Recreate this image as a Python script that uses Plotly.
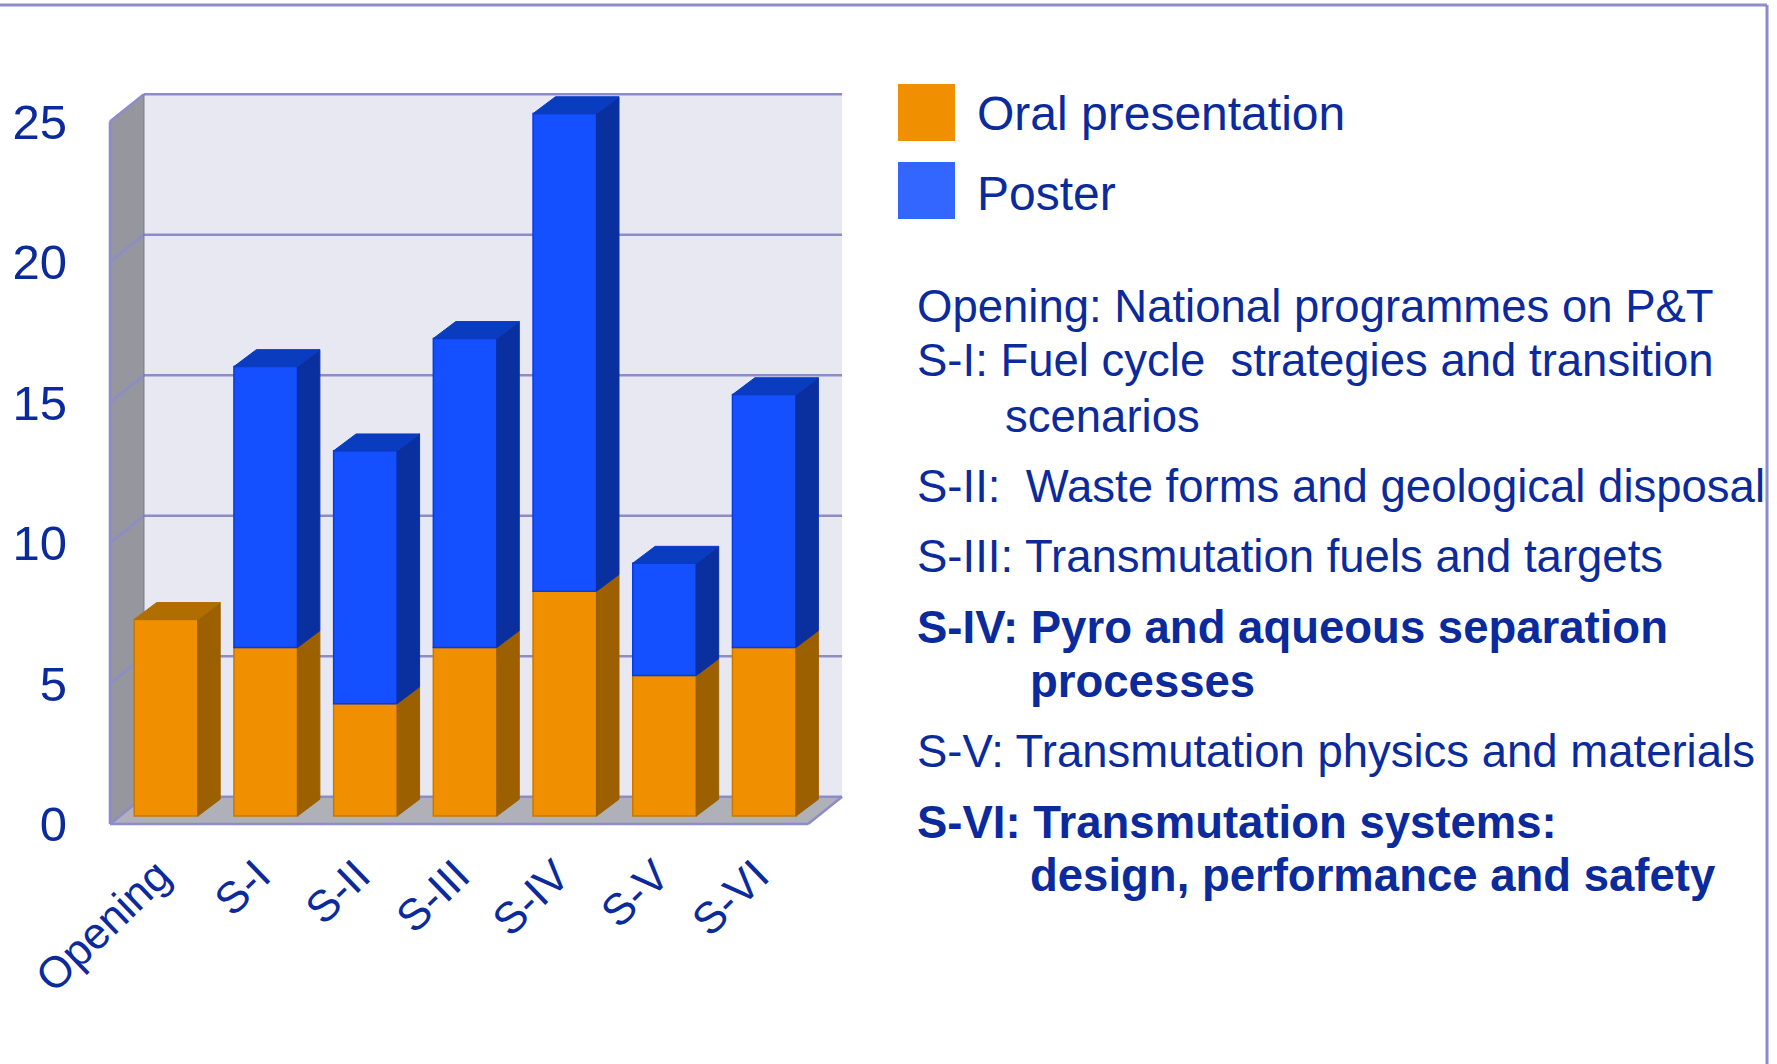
import plotly.graph_objects as go

# ---------------- data ----------------
categories = ["Opening", "S-I", "S-II", "S-III", "S-IV", "S-V", "S-VI"]
oral = [7, 6, 4, 6, 8, 5, 6]
poster = [0, 10, 9, 11, 17, 4, 9]
y_ticks = [0, 5, 10, 15, 20, 25]
legend_names = ["Oral presentation", "Poster"]
session_lines = [
    ("Opening: National programmes on P&T", False, 0),
    ("S-I: Fuel cycle  strategies and transition", False, 0),
    ("scenarios", False, 1),
    ("S-II:  Waste forms and geological disposal", False, 0),
    ("S-III: Transmutation fuels and targets", False, 0),
    ("S-IV: Pyro and aqueous separation", True, 0),
    ("processes", True, 2),
    ("S-V: Transmutation physics and materials", False, 0),
    ("S-VI: Transmutation systems:", True, 0),
    ("design, performance and safety", True, 2),
]
session_y_px = [306, 360, 416, 486, 556, 627, 681, 751, 822, 876]

# ---------------- style ----------------
W, H = 1777, 1064
L, R, T, B = 108, 932, 90, 238
PW, PH = W - L - R, H - T - B
BOTTOM_PX = H - B

TXT = "#0b2a9c"
FONT = "Liberation Sans, Arial, sans-serif"
OR_FRONT, OR_SIDE, OR_TOP, OR_EDGE = "#f09000", "#9c6000", "#b06e00", "#c87800"
BL_FRONT, BL_SIDE, BL_TOP, BL_EDGE = "#1450ff", "#0a30a0", "#0a3cc0", "#0a3ad8"
LEG_OR, LEG_BL = "#f09000", "#3366ff"
WALL_BACK, WALL_LEFT, FLOOR = "#e8e8f2", "#96969e", "#b0b0b8"
GRID = "#8c8cc8"

# projection geometry (data units)
DX, DY = 0.341, 0.968          # full depth of the box
X0, X1 = -0.562, 6.44          # front-left / front-right of the box
BAR_W = 0.637
BAR_BASE = 0.281               # bar front plane lifted by its depth
BDX, BDY = 0.225, 0.60         # bar depth offset
WALL_TOP = max(y_ticks)
LABEL_SHIFT = -0.08

fig = go.Figure()

# ---------------- walls (shapes below traces) ----------------
def poly(pts):
    return "M " + " L ".join(f"{x},{y}" for x, y in pts) + " Z"

shapes = []
shapes.append(dict(type="path", xref="x", yref="y", layer="below",
                   path=poly([(X0 + DX, DY), (X1 + DX, DY), (X1 + DX, WALL_TOP + DY), (X0 + DX, WALL_TOP + DY)]),
                   fillcolor=WALL_BACK, line=dict(width=0)))
shapes.append(dict(type="path", xref="x", yref="y", layer="below",
                   path=poly([(X0, 0), (X0, WALL_TOP), (X0 + DX, WALL_TOP + DY), (X0 + DX, DY)]),
                   fillcolor=WALL_LEFT, line=dict(width=0)))
shapes.append(dict(type="path", xref="x", yref="y", layer="below",
                   path=poly([(X0, 0), (X1, 0), (X1 + DX, DY), (X0 + DX, DY)]),
                   fillcolor=FLOOR, line=dict(width=0)))
for v in y_ticks:
    shapes.append(dict(type="line", xref="x", yref="y", layer="below",
                       x0=X0 + DX, x1=X1 + DX, y0=v + DY, y1=v + DY, line=dict(color=GRID, width=2.5)))
    shapes.append(dict(type="line", xref="x", yref="y", layer="below",
                       x0=X0, x1=X0 + DX, y0=v, y1=v + DY, line=dict(color=GRID, width=2.5)))
# box edges
shapes.append(dict(type="line", xref="x", yref="y", layer="below",
                   x0=X0, x1=X0, y0=0, y1=WALL_TOP, line=dict(color=GRID, width=2.5)))
shapes.append(dict(type="line", xref="x", yref="y", layer="below",
                   x0=X0, x1=X1, y0=0, y1=0, line=dict(color=GRID, width=2.5)))
shapes.append(dict(type="line", xref="x", yref="y", layer="below",
                   x0=X1, x1=X1 + DX, y0=0, y1=DY, line=dict(color=GRID, width=2.5)))
shapes.append(dict(type="line", xref="x", yref="y", layer="below",
                   x0=X0 + DX, x1=X0 + DX, y0=DY, y1=WALL_TOP + DY, line=dict(color="#7a7a86", width=1)))

# ---------------- bars: front faces ----------------
xs = list(range(len(categories)))
fig.add_trace(go.Bar(x=xs, y=oral, base=[BAR_BASE] * len(xs), width=BAR_W,
                     marker=dict(color=OR_FRONT, line=dict(color=OR_EDGE, width=1.5)),
                     name=legend_names[0], showlegend=False, hoverinfo="skip"))
fig.add_trace(go.Bar(x=xs, y=[p if p > 0 else None for p in poster],
                     base=[BAR_BASE + o for o in oral], width=BAR_W,
                     marker=dict(color=BL_FRONT, line=dict(color=BL_EDGE, width=1.5)),
                     name=legend_names[1], showlegend=False, hoverinfo="skip"))

# ---------------- bars: side and top faces ----------------
def side(i, b, t):
    xr = i + BAR_W / 2
    return [(xr, b), (xr, t), (xr + BDX, t + BDY), (xr + BDX, b + BDY), (xr, b)]

def top(i, t):
    xl, xr = i - BAR_W / 2, i + BAR_W / 2
    return [(xl, t), (xr, t), (xr + BDX, t + BDY), (xl + BDX, t + BDY), (xl, t)]

def poly_trace(polys, color, edge):
    px, py = [], []
    for p in polys:
        px += [q[0] for q in p] + [None]
        py += [q[1] for q in p] + [None]
    return go.Scatter(x=px, y=py, mode="lines", fill="toself", fillcolor=color,
                      line=dict(color=edge, width=1), showlegend=False, hoverinfo="skip")

or_sides, bl_sides, or_tops, bl_tops = [], [], [], []
for i, (o, p) in enumerate(zip(oral, poster)):
    b = BAR_BASE
    or_sides.append(side(i, b, b + o))
    if p > 0:
        bl_sides.append(side(i, b + o, b + o + p))
        bl_tops.append(top(i, b + o + p))
    else:
        or_tops.append(top(i, b + o))

fig.add_trace(poly_trace(or_sides, OR_SIDE, OR_SIDE))
fig.add_trace(poly_trace(bl_sides, BL_SIDE, BL_SIDE))
if or_tops:
    fig.add_trace(poly_trace(or_tops, OR_TOP, OR_TOP))
fig.add_trace(poly_trace(bl_tops, BL_TOP, BL_TOP))

# ---------------- helpers for paper coords ----------------
def pxx(px):
    return (px - L) / PW

def pxy(py):
    return (BOTTOM_PX - py) / PH

# frame lines
shapes.append(dict(type="line", xref="paper", yref="paper", x0=pxx(0), x1=pxx(1767), y0=pxy(5), y1=pxy(5),
                   line=dict(color=GRID, width=3)))
shapes.append(dict(type="line", xref="paper", yref="paper", x0=pxx(1767), x1=pxx(1767), y0=pxy(5), y1=pxy(1064),
                   line=dict(color=GRID, width=3)))

# legend swatches
for name, col, (ya, yb) in zip(legend_names, [LEG_OR, LEG_BL], [(84, 141), (162, 219)]):
    shapes.append(dict(type="rect", xref="paper", yref="paper", x0=pxx(898), x1=pxx(955),
                       y0=pxy(yb), y1=pxy(ya), fillcolor=col, line=dict(width=0)))

annotations = []
for name, yc in zip(legend_names, [113, 193]):
    annotations.append(dict(text=name, xref="paper", yref="paper", x=pxx(975), y=pxy(yc),
                            xanchor="left", yanchor="middle", showarrow=False,
                            font=dict(family=FONT, size=48, color=TXT)))

indent_px = {0: 915, 1: 1003, 2: 1028}
for (txt, bold, ind), yc in zip(session_lines, session_y_px):
    annotations.append(dict(text=f"<b>{txt}</b>" if bold else txt, xref="paper", yref="paper",
                            x=pxx(indent_px[ind]), y=pxy(yc), xanchor="left", yanchor="middle",
                            showarrow=False, font=dict(family=FONT, size=45.5, color=TXT)))

fig.update_layout(
    width=W, height=H,
    margin=dict(l=L, r=R, t=T, b=B, autoexpand=False),
    paper_bgcolor="white", plot_bgcolor="rgba(0,0,0,0)",
    showlegend=False, barmode="overlay",
    shapes=shapes, annotations=annotations,
    font=dict(family=FONT, color=TXT),
    xaxis=dict(range=[-0.5817, 6.8104], tickvals=[x + LABEL_SHIFT for x in xs], ticktext=categories,
               tickangle=-44, showgrid=False, zeroline=False, showline=False, ticks="",
               tickfont=dict(family=FONT, size=44, color=TXT), ticklabelstandoff=14, fixedrange=True),
    yaxis=dict(range=[-0.0712, 26.121], tickvals=y_ticks, showgrid=False, zeroline=False,
               showline=False, ticks="", tickfont=dict(family=FONT, size=49, color=TXT),
               ticklabelstandoff=40, fixedrange=True),
)

fig.write_html("out.html", config={"displayModeBar": False},
               post_script="document.body.style.margin='0px';document.body.style.overflow='hidden';")
